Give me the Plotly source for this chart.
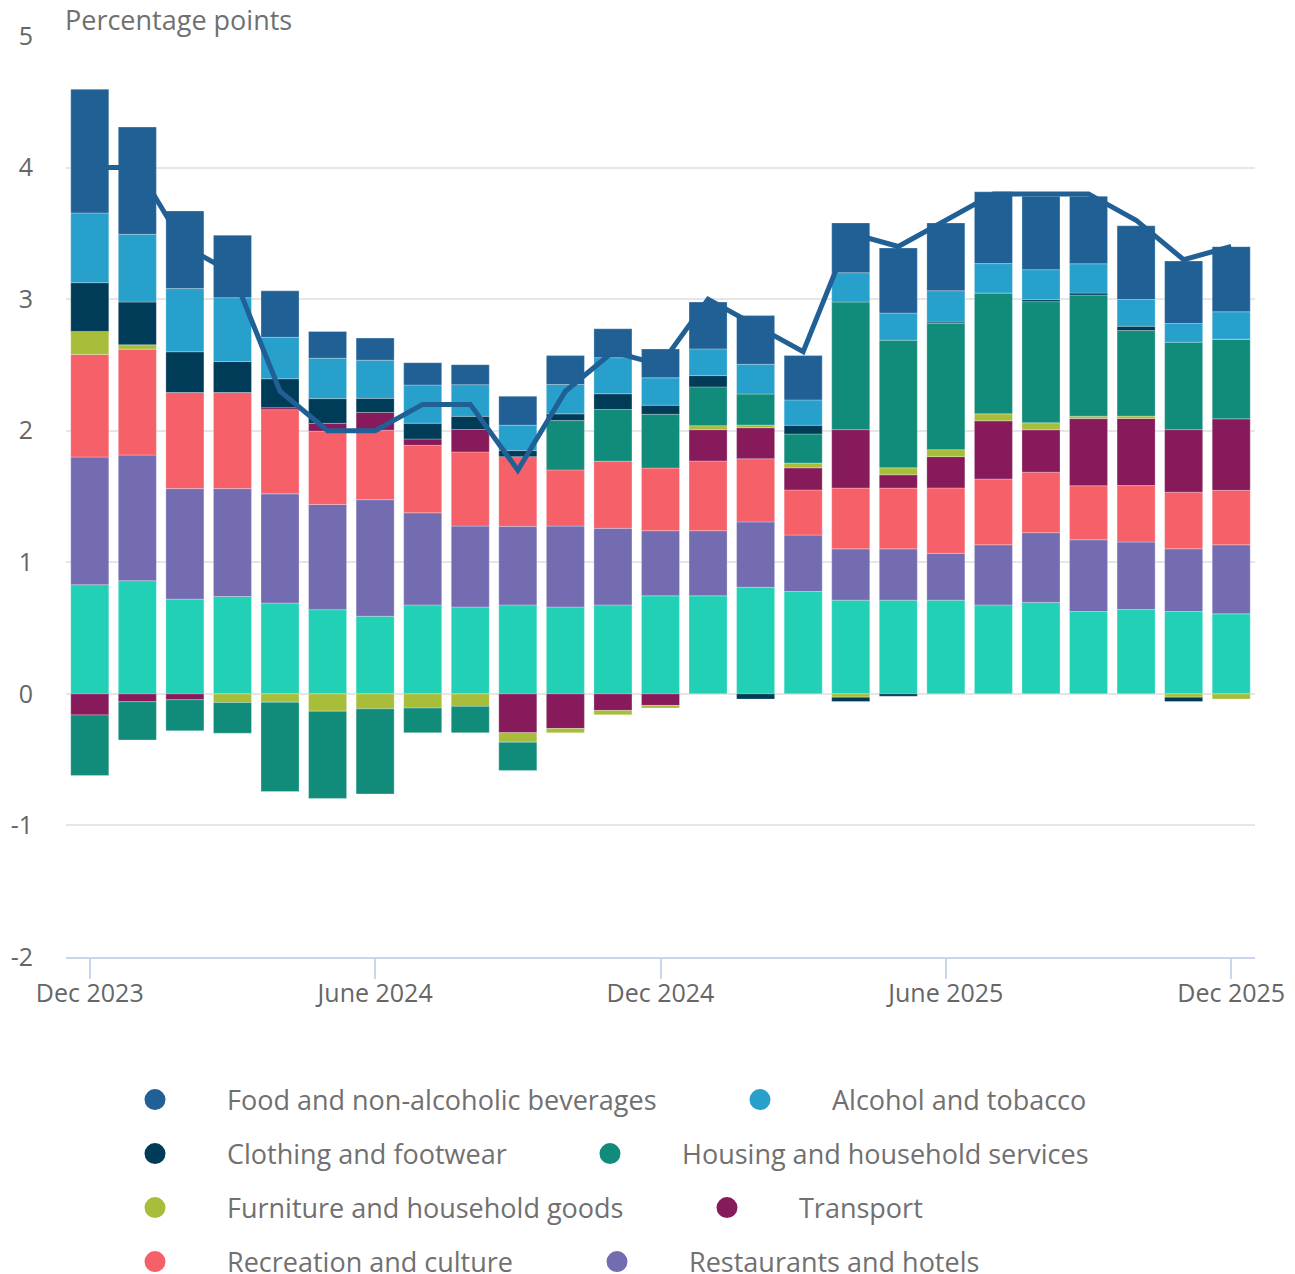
import plotly.graph_objects as go

months = ["Dec 2023", "Jan 2024", "Feb 2024", "Mar 2024", "Apr 2024", "May 2024", "Jun 2024",
          "Jul 2024", "Aug 2024", "Sep 2024", "Oct 2024", "Nov 2024", "Dec 2024",
          "Jan 2025", "Feb 2025", "Mar 2025", "Apr 2025", "May 2025", "Jun 2025",
          "Jul 2025", "Aug 2025", "Sep 2025", "Oct 2025", "Nov 2025", "Dec 2025"]

tick_vals = ["Dec 2023", "Jun 2024", "Dec 2024", "Jun 2025", "Dec 2025"]
tick_text = ["Dec 2023", "June 2024", "Dec 2024", "June 2025", "Dec 2025"]
y_tick_vals = [-2, -1, 0, 1, 2, 3, 4, 5]
y_tick_text = ["-2", "-1", "0", "1", "2", "3", "4", "5"]

food = [0.94, 0.815, 0.59, 0.475, 0.353, 0.203, 0.168, 0.17, 0.152, 0.22, 0.22, 0.22, 0.219,
        0.356, 0.37, 0.337, 0.378, 0.495, 0.515, 0.546, 0.558, 0.513, 0.561, 0.475, 0.495]
alcohol = [0.53, 0.515, 0.48, 0.485, 0.315, 0.307, 0.29, 0.29, 0.241, 0.193, 0.223, 0.274, 0.208,
           0.203, 0.226, 0.193, 0.223, 0.206, 0.238, 0.223, 0.228, 0.223, 0.203, 0.142, 0.208]
clothing = [0.37, 0.325, 0.31, 0.236, 0.22, 0.188, 0.107, 0.12, 0.10, 0.046, 0.051, 0.12, 0.069,
            0.086, -0.04, 0.066, -0.033, -0.018, 0.01, 0.0, 0.015, 0.015, 0.033, -0.033, 0.0]
housing = [-0.46, -0.29, -0.235, -0.233, -0.68, -0.663, -0.647, -0.187, -0.20, -0.216, 0.375, 0.393, 0.409,
           0.295, 0.236, 0.221, 0.97, 0.97, 0.96, 0.919, 0.921, 0.921, 0.65, 0.665, 0.606]
furniture = [0.175, 0.033, 0.0, -0.066, -0.063, -0.132, -0.114, -0.108, -0.095, -0.072, -0.033, -0.033, -0.02,
             0.03, 0.02, 0.036, -0.025, 0.053, 0.053, 0.053, 0.053, 0.018, 0.018, -0.025, -0.04]
transport = [-0.16, -0.06, -0.045, 0.0, 0.015, 0.06, 0.135, 0.048, 0.17, -0.295, -0.263, -0.126, -0.088,
             0.238, 0.236, 0.168, 0.444, 0.101, 0.238, 0.442, 0.322, 0.51, 0.51, 0.475, 0.543]
recreation = [0.78, 0.805, 0.73, 0.73, 0.64, 0.556, 0.528, 0.513, 0.564, 0.53, 0.427, 0.51, 0.476,
              0.53, 0.48, 0.343, 0.462, 0.462, 0.497, 0.50, 0.46, 0.411, 0.429, 0.43, 0.414]
restaurants = [0.97, 0.955, 0.84, 0.82, 0.83, 0.80, 0.886, 0.70, 0.615, 0.597, 0.615, 0.582, 0.495,
               0.495, 0.497, 0.429, 0.39, 0.39, 0.356, 0.457, 0.53, 0.545, 0.513, 0.477, 0.525]
other = [0.83, 0.86, 0.72, 0.74, 0.69, 0.64, 0.59, 0.676, 0.66, 0.676, 0.66, 0.676, 0.745,
         0.745, 0.81, 0.778, 0.712, 0.712, 0.712, 0.676, 0.695, 0.626, 0.641, 0.626, 0.608]
cpi = [4.0, 4.0, 3.4, 3.2, 2.3, 2.0, 2.0, 2.2, 2.2, 1.7, 2.3, 2.6, 2.5,
       3.0, 2.8, 2.6, 3.5, 3.4, 3.6, 3.8, 3.8, 3.8, 3.6, 3.3, 3.4]

# stacking order (first = nearest zero)
stack = [
    ("Other", other, "#22d0b6"),
    ("Restaurants and hotels", restaurants, "#746cb1"),
    ("Recreation and culture", recreation, "#f66068"),
    ("Transport", transport, "#871a5b"),
    ("Furniture and household goods", furniture, "#a8bd3a"),
    ("Housing and household services", housing, "#118c7b"),
    ("Clothing and footwear", clothing, "#003c57"),
    ("Alcohol and tobacco", alcohol, "#27a0cc"),
    ("Food and non-alcoholic beverages", food, "#206095"),
]
colors = {n: c for n, _, c in stack}

legend_order = ["Food and non-alcoholic beverages", "Alcohol and tobacco",
                "Clothing and footwear", "Housing and household services",
                "Furniture and household goods", "Transport",
                "Recreation and culture", "Restaurants and hotels"]

fig = go.Figure()
for name, vals, col in stack:
    fig.add_trace(go.Bar(x=months, y=vals, name=name,
                         marker=dict(color=col, line=dict(color="rgba(255,255,255,0.45)", width=0.6)),
                         showlegend=False))

fig.add_trace(go.Scatter(x=months, y=cpi, name="CPI", mode="lines",
                         line=dict(color="#206095", width=5), showlegend=False))

# page offset (body margin) compensation
OFF = 8
ML, MR, MT, MB = 66 - OFF, 40 + OFF, 36 - OFF, 317 + OFF
W = 1295 - ML - MR
H = 1274 - MT - MB

# legend entries (circles), one legend box per entry to reproduce the flowing layout
sym_pos = [(155, 1100), (760, 1100), (155, 1154), (610, 1154),
           (155, 1208), (727, 1208), (155, 1262), (617, 1262)]
ITEMW = 134
legends = {}
for i, name in enumerate(legend_order):
    key = "legend" if i == 0 else f"legend{i + 1}"
    col = colors[name]
    fig.add_trace(go.Scatter(x=[None], y=[None], mode="markers", name=name,
                             marker=dict(color=col, size=16, line=dict(color=col, width=5)),
                             legend=key, showlegend=True))
    cx, cy = sym_pos[i]
    cx -= OFF
    cy -= OFF
    legends[key] = dict(
        x=(cx - (ITEMW + 10) / 2 - ML) / W,
        y=(1274 - MB - cy) / H,
        xanchor="left", yanchor="middle",
        orientation="h",
        itemwidth=ITEMW,
        bgcolor="rgba(0,0,0,0)",
        font=dict(family="Open Sans", size=27, color="#707070"),
        itemclick=False, itemdoubleclick=False,
    )

fig.update_layout(
    width=1295, height=1274,
    barmode="relative",
    bargap=0.2,
    plot_bgcolor="white", paper_bgcolor="white",
    margin=dict(l=ML, r=MR, t=MT, b=MB, autoexpand=False),
    font=dict(family="Open Sans", color="#666666"),
    xaxis=dict(
        type="category", categoryorder="array", categoryarray=months,
        tickmode="array", tickvals=tick_vals, ticktext=tick_text,
        ticks="outside", ticklen=20, tickwidth=2, tickcolor="#ccd6eb",
        showline=True, linecolor="#ccd6eb", linewidth=2,
        showgrid=False,
        ticklabelstandoff=-7,
        tickfont=dict(family="Open Sans", size=25, color="#666666"),
        range=[-0.5, 24.5],
    ),
    yaxis=dict(
        range=[-2, 5], tickmode="array", tickvals=y_tick_vals, ticktext=y_tick_text,
        showgrid=True, gridcolor="#e6e6e6", gridwidth=2,
        zeroline=False, showline=False, ticks="",
        ticklabelstandoff=32,
        tickfont=dict(family="Open Sans", size=25, color="#666666"),
    ),
    annotations=[dict(text="Percentage points", xref="paper", yref="paper", x=0,
                      y=1 + (MT - 12) / H, xanchor="left", yanchor="middle",
                      showarrow=False, xshift=-2, borderpad=0,
                      font=dict(family="Open Sans", size=27, color="#707070"))],
    **legends,
)

fig.write_html("out.html")
